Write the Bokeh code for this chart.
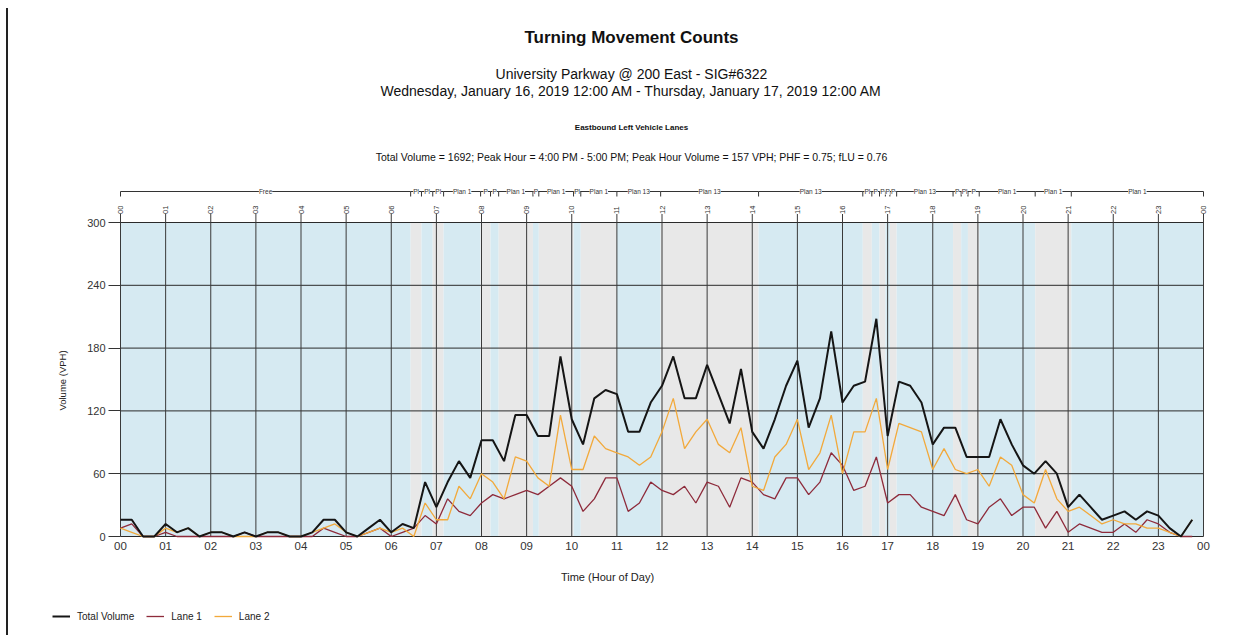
import math
from bokeh.plotting import figure
from bokeh.models import Range1d, FixedTicker, Legend, LegendItem, ColumnDataSource
from bokeh.core.properties import value
from bokeh.embed import file_html
from bokeh.resources import INLINE

FONT = "Liberation Sans"

# ---------------- data ----------------
# 15-minute bins over the day
bin_labels = [f"{h:02d}:{m:02d}" for h in range(24) for m in (0, 15, 30, 45)]
bin_hours = [int(s[:2]) + int(s[3:]) / 60 for s in bin_labels]

total_volume = [16, 16, 0, 0, 12, 4, 8, 0,
                4, 4, 0, 4, 0, 4, 4, 0,
                0, 4, 16, 16, 4, 0, 8, 16,
                4, 12, 8, 52, 28, 52, 72, 56,
                92, 92, 72, 116, 116, 96, 96, 172,
                112, 88, 132, 140, 136, 100, 100, 128,
                144, 172, 132, 132, 164, 136, 108, 160,
                100, 84, 112, 144, 168, 104, 132, 196,
                128, 144, 148, 208, 96, 148, 144, 128,
                88, 104, 104, 76, 76, 76, 112, 88,
                68, 60, 72, 60, 28, 40, 28, 16,
                20, 24, 16, 24, 20, 8, 0, 16]
lane_1 = [8, 12, 0, 0, 4, 0, 0, 0,
          0, 0, 0, 4, 0, 0, 0, 0,
          0, 0, 8, 4, 0, 0, 4, 8,
          0, 4, 8, 20, 12, 36, 24, 20,
          32, 40, 36, 40, 44, 40, 48, 56,
          48, 24, 36, 56, 56, 24, 32, 52,
          44, 40, 48, 32, 52, 48, 28, 56,
          52, 40, 36, 56, 56, 40, 52, 80,
          68, 44, 48, 76, 32, 40, 40, 28,
          24, 20, 40, 16, 12, 28, 36, 20,
          28, 28, 8, 24, 4, 12, 8, 4,
          4, 12, 4, 16, 12, 4, 0, 0]
lane_2 = [8, 4, 0, 0, 8, 4, 8, 0,
          4, 4, 0, 0, 0, 4, 4, 0,
          0, 4, 8, 12, 4, 0, 4, 8,
          4, 8, 0, 32, 16, 16, 48, 36,
          60, 52, 36, 76, 72, 56, 48, 116,
          64, 64, 96, 84, 80, 76, 68, 76,
          100, 132, 84, 100, 112, 88, 80, 104,
          48, 44, 76, 88, 112, 64, 80, 116,
          60, 100, 100, 132, 64, 108, 104, 100,
          64, 84, 64, 60, 64, 48, 76, 68,
          40, 32, 64, 36, 24, 28, 20, 12,
          16, 12, 12, 8, 8, 4, 0, 16]

hour_ticks = list(range(25))
hour_labels = [f"{h % 24:02d}" for h in hour_ticks]
y_ticks = [0, 60, 120, 180, 240, 300]

# signal timing plans (hour-of-day boundaries)
plan_names = ["Free", "Pl", "Pl", "Pl", "Plan 1", "P", "P", "Plan 1", "P", "Plan 1",
              "Pl", "Plan 1", "Plan 13", "Plan 13", "Plan 13", "Pl", "P", "P", "P", "P",
              "Plan 13", "P", "Pl", "P", "Plan 1", "Plan 1", "Plan 1"]
plan_bounds = [0, 6.43, 6.67, 6.92, 7.16, 7.98, 8.20, 8.38, 9.14, 9.27,
               10.04, 10.20, 11.0, 11.97, 14.14, 16.45, 16.65, 16.82, 16.95, 17.05,
               17.20, 18.45, 18.63, 18.78, 19.03, 20.27, 21.07, 24]

title = "Turning Movement Counts"
subtitle1 = "University Parkway @ 200 East - SIG#6322"
subtitle2 = "Wednesday, January 16, 2019 12:00 AM - Thursday, January 17, 2019 12:00 AM"
subtitle3 = "Eastbound Left Vehicle Lanes"
subtitle4 = ("Total Volume = 1692; Peak Hour = 4:00 PM - 5:00 PM; "
             "Peak Hour Volume = 157 VPH; PHF = 0.75; fLU = 0.76")
x_title = "Time (Hour of Day)"
y_title = "Volume (VPH)"

# ---------------- geometry (page pixels) ----------------
PAGE_OFF = 8
W, H = 1234, 627
PLOT_L, PLOT_R, PLOT_B = 120, 1203, 536      # data area in page pixels
PX_PER_H = (PLOT_R - PLOT_L) / 24
PX_PER_V = 314 / 300


def dx(px):
    return (px - PLOT_L) / PX_PER_H


def dy(py):
    return (PLOT_B - py) / PX_PER_V


BLUE = "#d6eaf2"
GRAY = "#e8e8e8"
INK = "#222222"

p = figure(width=W, height=H,
           x_range=Range1d(dx(PAGE_OFF), dx(PAGE_OFF + W)),
           y_range=Range1d(dy(PAGE_OFF + H), dy(PAGE_OFF)),
           output_backend="svg", toolbar_location=None,
           min_border_left=0, min_border_right=0, min_border_top=0, min_border_bottom=0)
p.outline_line_color = None
p.background_fill_color = "white"
p.border_fill_color = "white"
p.styles = {"margin-left": "6px", "margin-top": "8px",
            "border-left": "2px solid #222222"}

# plan background bands
lefts = plan_bounds[:-1]
rights = plan_bounds[1:]
plan_src = ColumnDataSource(dict(
    left=lefts, right=rights, name=plan_names,
    mid=[(a + b) / 2 for a, b in zip(lefts, rights)],
    color=[BLUE if i % 2 == 0 else GRAY for i in range(len(plan_names))]))
p.quad(left="left", right="right", bottom=0, top=300, fill_color="color",
       line_color=None, source=plan_src)

# grid (limited to the data area)
p.xgrid.grid_line_color = None
p.ygrid.grid_line_color = None
p.segment(x0=0, y0=y_ticks, x1=24, y1=y_ticks, line_color="#2a2a2a", line_width=1)
p.segment(x0=hour_ticks, y0=0, x1=hour_ticks, y1=dy(213.5),
          line_color="#3a3a3a", line_width=1)

# data lines
r1 = p.line(bin_hours, lane_1, line_color="#8e2b3b", line_width=1.3)
r2 = p.line(bin_hours, lane_2, line_color="#f2a93b", line_width=1.3)
r0 = p.line(bin_hours, total_volume, line_color="#151515", line_width=2)

# top hour labels
p.text(x=hour_ticks, y=dy(213.5), text=hour_labels, angle=math.pi / 2,
       text_align="left", text_baseline="middle", text_font_size="7.5px",
       text_color="#333333", text_font=value(FONT))

# plan bracket
yb = dy(191)
p.segment(x0=lefts, y0=yb, x1=rights, y1=yb, line_color="#333333", line_width=1)
p.segment(x0=plan_bounds, y0=dy(196), x1=plan_bounds, y1=yb,
          line_color="#333333", line_width=1)
p.text(x="mid", y=yb, text="name", source=plan_src, text_align="center",
       text_baseline="middle", text_font_size="6.5px", text_color="#333333",
       text_font=value(FONT), background_fill_color="white")

# chart titles
cx = dx(631)
for t, py, fs, st in [(title, 37, "17px", "bold"),
                      (subtitle1, 73, "14px", "normal"),
                      (subtitle2, 90, "14px", "normal"),
                      (subtitle3, 127, "8px", "bold"),
                      (subtitle4, 156, "10.5px", "normal")]:
    p.text(x=[cx], y=[dy(py)], text=[t], text_align="center", text_baseline="middle",
           text_font_size=fs, text_font_style=st, text_font=value(FONT),
           text_color="#111111")

# axis titles
p.text(x=[dx(607)], y=[dy(576)], text=[x_title], text_align="center",
       text_baseline="middle", text_font_size="11px", text_font=value(FONT),
       text_color=INK)
p.text(x=[dx(62)], y=[dy(380)], text=[y_title], angle=math.pi / 2, text_align="center",
       text_baseline="middle", text_font_size="9.5px", text_font=value(FONT),
       text_color=INK)

# axes, pinned to the data origin
p.xaxis.fixed_location = 0
p.xaxis.ticker = FixedTicker(ticks=hour_ticks)
p.xaxis.major_label_overrides = {t: l for t, l in zip(hour_ticks, hour_labels)}
p.xaxis.axis_line_color = None
p.xaxis.major_tick_line_color = None
p.xaxis.major_tick_out = 0
p.xaxis.major_tick_in = 0
p.xaxis.minor_tick_line_color = None
p.xaxis.major_label_standoff = 5
p.xaxis.major_label_text_font_size = "11.5px"
p.xaxis.major_label_text_font = FONT
p.xaxis.major_label_text_color = "#333333"

p.yaxis.fixed_location = 0
p.yaxis.ticker = FixedTicker(ticks=y_ticks)
p.yaxis.axis_line_color = None
p.yaxis.minor_tick_line_color = None
p.yaxis.major_tick_out = 12
p.yaxis.major_tick_in = 0
p.yaxis.major_tick_line_color = "#333333"
p.yaxis.major_label_standoff = 3
p.yaxis.major_label_text_font_size = "11px"
p.yaxis.major_label_text_font = FONT
p.yaxis.major_label_text_color = "#333333"

# legend (screen offsets from the frame's bottom-left corner)
legend = Legend(items=[LegendItem(label="Total Volume", renderers=[r0]),
                       LegendItem(label="Lane 1", renderers=[r1]),
                       LegendItem(label="Lane 2", renderers=[r2])],
                orientation="horizontal", location=(44, 13),
                glyph_width=18, glyph_height=12, label_height=12, label_width=10,
                label_standoff=7, spacing=12,
                padding=0, margin=0, border_line_color=None, background_fill_alpha=0,
                label_text_font_size="10px", label_text_font=FONT, label_text_color=INK)
p.add_layout(legend, "center")

open("out.html", "w").write(file_html(p, INLINE))
